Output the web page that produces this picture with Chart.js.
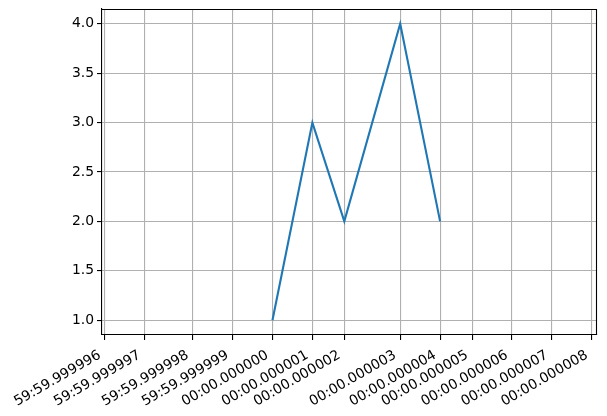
<!DOCTYPE html>
<html>
<head>
<meta charset="utf-8">
<script src="https://cdn.jsdelivr.net/npm/chart.js@4/dist/chart.umd.min.js"></script>
<style>
  html, body { margin: 0; padding: 0; background: #fff; }
  #wrap { width: 607px; height: 416px; }
</style>
</head>
<body>
<div id="wrap"><canvas id="c"></canvas></div>
<script>
// x in microseconds from 00:00.000000 (as drawn, with the float jitter seen in the picture)
const xValues = [0, 1.0, 1.8, 3.2, 4.2]
const yValues = [1, 3, 2, 4, 2]

const xTickValues = [-4.2, -3.2, -2.0, -1.0, 0, 1.0, 1.8, 3.2, 4.2, 5.0, 6.0, 7.0, 8.0]
const xTickLabels = ['59:59.999996', '59:59.999997', '59:59.999998', '59:59.999999',
    '00:00.000000', '00:00.000001', '00:00.000002', '00:00.000003', '00:00.000004',
    '00:00.000005', '00:00.000006', '00:00.000007', '00:00.000008']
const yTickValues = [1.0, 1.5, 2.0, 2.5, 3.0, 3.5, 4.0]

const FONT = { family: 'DejaVu Sans', size: 13.9 }

// top and right spines
const frame = {
    id: 'frame',
    afterDraw(chart) {
        const a = chart.chartArea, ctx = chart.ctx
        ctx.save()
        ctx.strokeStyle = '#000'
        ctx.lineWidth = 1.1
        ctx.beginPath()
        ctx.moveTo(a.left, a.top + 0.5)
        ctx.lineTo(a.right, a.top + 0.5)
        ctx.moveTo(a.right - 0.5, a.top)
        ctx.lineTo(a.right - 0.5, a.bottom)
        ctx.stroke()
        ctx.restore()
    }
}

new Chart(document.getElementById('c'), {
    type: 'line',
    data: {
        datasets: [{
            data: xValues.map((x, i) => ({ x: x, y: yValues[i] })),
            borderColor: '#1f77b4',
            borderWidth: 2.1,
            pointRadius: 0,
            tension: 0,
            fill: false
        }]
    },
    options: {
        responsive: true,
        maintainAspectRatio: false,
        animation: false,
        layout: { padding: { top: 9, right: 10, left: 0, bottom: 0 } },
        plugins: { legend: { display: false }, tooltip: { enabled: false } },
        scales: {
            x: {
                type: 'linear',
                min: -4.27,
                max: 8.13,
                afterBuildTicks: axis => { axis.ticks = xTickValues.map(v => ({ value: v })) },
                afterFit: axis => { axis.height = 81; axis.paddingLeft = 0; axis.paddingRight = 0 },
                ticks: {
                    autoSkip: false,
                    maxRotation: 30,
                    minRotation: 30,
                    padding: 7,
                    labelOffset: -5,
                    color: '#000',
                    font: FONT,
                    callback: (v, i) => xTickLabels[i]
                },
                grid: { color: '#b0b0b0', lineWidth: 1.1, tickColor: '#000', tickLength: 5, tickWidth: 1.1 },
                border: { color: '#000', width: 1.1 }
            },
            y: {
                min: 0.85,
                max: 4.15,
                afterBuildTicks: axis => { axis.ticks = yTickValues.map(v => ({ value: v })) },
                afterFit: axis => { axis.width = 102; axis.paddingTop = 0; axis.paddingBottom = 0 },
                ticks: {
                    padding: 3,
                    color: '#000',
                    font: FONT,
                    callback: v => v.toFixed(1)
                },
                grid: { color: '#b0b0b0', lineWidth: 1.1, tickColor: '#000', tickLength: 5, tickWidth: 1.1 },
                border: { color: '#000', width: 1.1 }
            }
        }
    },
    plugins: [frame]
})
</script>
</body>
</html>
